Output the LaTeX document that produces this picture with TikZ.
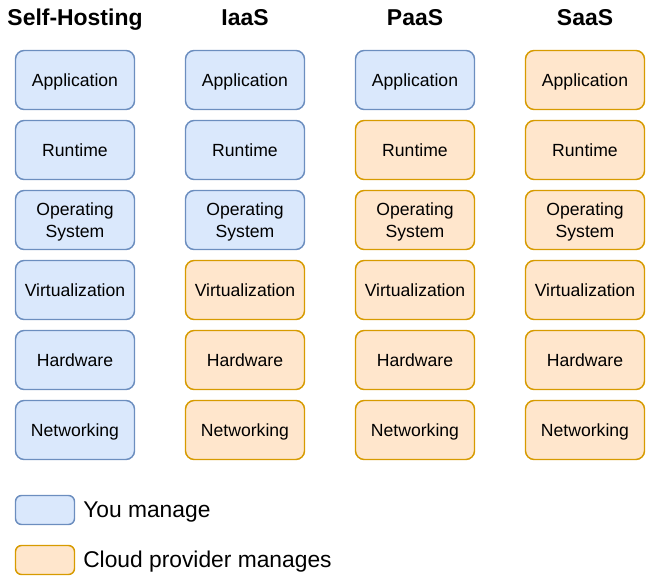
\documentclass[tikz,border=0pt]{standalone}
\usepackage{fontspec}
\setmainfont{Liberation Sans}
\definecolor{youfill}{HTML}{DAE8FC}
\definecolor{youdraw}{HTML}{6C8EBF}
\definecolor{cpfill}{HTML}{FFE6CC}
\definecolor{cpdraw}{HTML}{D79B00}
\newcommand\stackbox[5]{%
  \node[#2] (#1) at (#3,#4) {};
  \node[boxtext] (#1t) at ([yshift=-5.25pt]#1.center) {#5};}
\newcommand\stackboxtwo[5]{%
  \node[#2] (#1) at (#3,#4) {};
  \node[boxtext] (#1t) at ([yshift=-13.3pt]#1.center) {#5};}
\begin{document}
\begin{tikzpicture}[x=0.75pt,y=-0.75pt,
  layer/.style={rounded corners=6.5pt, minimum width=89.25pt, minimum height=44.25pt, line width=1.1pt, inner sep=0pt},
  you/.style={layer, fill=youfill, draw=youdraw},
  cp/.style={layer, fill=cpfill, draw=cpdraw},
  boxtext/.style={align=center, inner sep=0pt, anchor=base, font=\fontsize{13.2}{16.5}\selectfont},
  legbox/.style={rounded corners=4.5pt, minimum width=44.25pt, minimum height=21.75pt, line width=1.1pt, inner sep=0pt},
  head/.style={font=\fontsize{17.2}{20}\selectfont\bfseries, inner sep=0pt, anchor=base},
  legtext/.style={font=\fontsize{17.1}{20}\selectfont, anchor=base west, inner sep=0pt}]
\useasboundingbox (0,0) rectangle (646,580);
% headers
\node[head] (h1) at (75,26) {Self-Hosting};
\node[head] (h2) at (245,26) {IaaS};
\node[head] (h3) at (415,26) {PaaS};
\node[head] (h4) at (585,26) {SaaS};
% column 1
\stackbox{a1}{you}{75}{80}{Application}
\stackbox{r1}{you}{75}{150}{Runtime}
\stackboxtwo{o1}{you}{75}{220}{Operating\\System}
\stackbox{v1}{you}{75}{290}{Virtualization}
\stackbox{w1}{you}{75}{360}{Hardware}
\stackbox{n1}{you}{75}{430}{Networking}
% column 2
\stackbox{a2}{you}{245}{80}{Application}
\stackbox{r2}{you}{245}{150}{Runtime}
\stackboxtwo{o2}{you}{245}{220}{Operating\\System}
\stackbox{v2}{cp}{245}{290}{Virtualization}
\stackbox{w2}{cp}{245}{360}{Hardware}
\stackbox{n2}{cp}{245}{430}{Networking}
% column 3
\stackbox{a3}{you}{415}{80}{Application}
\stackbox{r3}{cp}{415}{150}{Runtime}
\stackboxtwo{o3}{cp}{415}{220}{Operating\\System}
\stackbox{v3}{cp}{415}{290}{Virtualization}
\stackbox{w3}{cp}{415}{360}{Hardware}
\stackbox{n3}{cp}{415}{430}{Networking}
% column 4
\stackbox{a4}{cp}{585}{80}{Application}
\stackbox{r4}{cp}{585}{150}{Runtime}
\stackboxtwo{o4}{cp}{585}{220}{Operating\\System}
\stackbox{v4}{cp}{585}{290}{Virtualization}
\stackbox{w4}{cp}{585}{360}{Hardware}
\stackbox{n4}{cp}{585}{430}{Networking}
% legend
\node[legbox, fill=youfill, draw=youdraw] (lb1) at (45,510) {};
\node[legtext] (lt1) at (83,517.3) {You manage};
\node[legbox, fill=cpfill, draw=cpdraw] (lb2) at (45,560) {};
\node[legtext] (lt2) at (83,567.3) {Cloud provider manages};
\end{tikzpicture}
\end{document}
